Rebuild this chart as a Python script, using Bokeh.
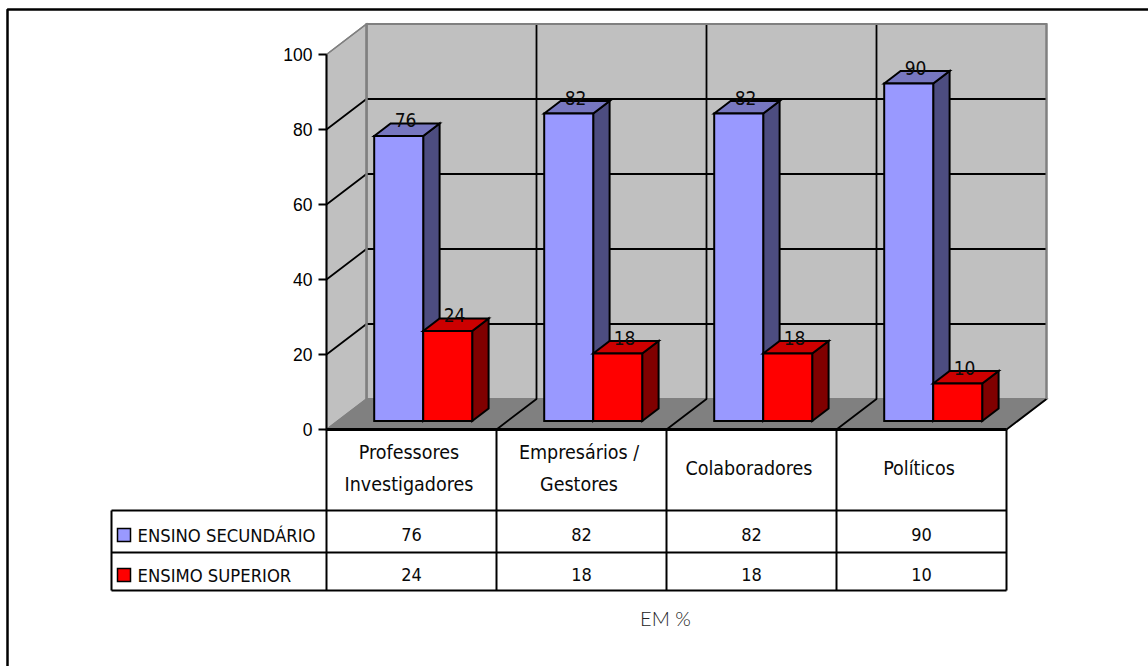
from bokeh.plotting import figure
from bokeh.models import FixedTicker, Range1d
from bokeh.core.properties import value
from bokeh.embed import file_html
from bokeh.resources import INLINE

# Survey data, in percent
categories = ["Professores\nInvestigadores", "Empresários /\nGestores", "Colaboradores", "Políticos"]
secundario = [76, 82, 82, 90]
superior = [24, 18, 18, 10]
series_names = ["ENSINO SECUNDÁRIO", "ENSIMO SUPERIOR"]
axis_ticks = [0, 20, 40, 60, 80, 100]
note = "EM %"

# Page layout (pixels) and the scale of the drawing
W, H = 1148, 666
X0, Y0 = 326, 429          # foot of the value axis
CAT_W, UNIT_H = 170, 3.75  # pixels per category, pixels per percent
DEPTH_X, DEPTH_Y = 40 / CAT_W, 30.5 / UNIT_H  # oblique offset of the back wall
BAR_W = 49 / CAT_W
BAR_MARGIN = 36.5 / CAT_W
BAR_NEAR, BAR_FAR = 0.28, 0.69  # depth span of the bars

FONT = value("DejaVu Sans Condensed")
INK = "#0A0A0A"


def px_x(x):
    return (x - X0) / CAT_W


def px_y(y):
    return (Y0 - y) / UNIT_H


def proj(x, v, d):
    """Oblique projection of category position x, value v, depth d."""
    return x + d * DEPTH_X, v + d * DEPTH_Y


p = figure(width=W, height=H, output_backend="svg", toolbar_location=None,
           x_range=Range1d(px_x(0), px_x(W)), y_range=Range1d(px_y(H), px_y(0)),
           min_border=0, outline_line_color=None, background_fill_color="white",
           border_fill_color="white")
p.grid.visible = False
p.xaxis.visible = False

n = len(categories)
vmax = axis_ticks[-1]


def poly(points, fill, line="black", width=2):
    xs, ys = zip(*points)
    p.patch(list(xs), list(ys), fill_color=fill, line_color=line, line_width=width,
            line_join="miter")


def seg(points, color="black", width=1.8):
    xs, ys = zip(*points)
    p.line(list(xs), list(ys), line_color=color, line_width=width, line_cap="butt")


# Frame around the chart area: top and left edges only
seg([(px_x(7), px_y(H)), (px_x(7), px_y(9)), (px_x(W), px_y(9))], width=2.5)

# Walls and floor
poly([proj(0, 0, 0), proj(0, 0, 1), proj(n, 0, 1), proj(n, vmax, 1), proj(0, vmax, 1),
      proj(0, 0, 1)], "#C0C0C0", "#808080", 2)
poly([proj(0, 0, 0), proj(0, vmax, 0), proj(0, vmax, 1), proj(0, 0, 1)], "#C0C0C0", "#808080", 1.5)
poly([proj(0, 0, 0), proj(n, 0, 0), proj(n, 0, 1), proj(0, 0, 1)], "#808080", "#808080", 1.5)

# Gridlines across the side wall and the back wall
for t in axis_ticks[1:-1]:
    seg([proj(0, t, 0), proj(0, t, 1), proj(n, t, 1)])
for c in range(1, n):
    seg([proj(c, 0, 0), proj(c, 0, 1), proj(c, vmax, 1)])
seg([proj(n, 0, 0), proj(n, 0, 1)])
seg([proj(0, vmax, 1), proj(n, vmax, 1), proj(n, 0, 1)], "#808080", 2)
seg([proj(0, 0, 1), proj(0, vmax, 1)], "#808080", 2.5)
seg([proj(0, vmax, 0), proj(0, vmax, 1)], "#808080", 1.5)


def bar(left, v, front, top, side):
    right = left + BAR_W
    poly([proj(right, 0, BAR_NEAR), proj(right, 0, BAR_FAR), proj(right, v, BAR_FAR), proj(right, v, BAR_NEAR)], side)
    poly([proj(left, v, BAR_NEAR), proj(left, v, BAR_FAR), proj(right, v, BAR_FAR), proj(right, v, BAR_NEAR)], top)
    poly([proj(left, 0, BAR_NEAR), proj(right, 0, BAR_NEAR), proj(right, v, BAR_NEAR), proj(left, v, BAR_NEAR)], front)


label_x, label_y, label_text = [], [], []
for i in range(n):
    left_a = i + BAR_MARGIN
    left_b = left_a + BAR_W
    bar(left_a, secundario[i], "#9999FF", "#7777C0", "#4D4D80")
    bar(left_b, superior[i], "#FF0000", "#CC0000", "#800000")
    for left, v in ((left_a, secundario[i]), (left_b, superior[i])):
        lx, ly = proj(left + BAR_W / 2, v, 0.5)
        label_x.append(lx)
        label_y.append(ly)
        label_text.append(str(v))

p.text(label_x, label_y, text=label_text, text_font=FONT, text_font_size="19px",
       text_color=INK, text_align="center", text_baseline="alphabetic",
       x_offset=-2, y_offset=-9)

# Value axis on the front edge of the side wall
ax = p.yaxis[0]
ax.fixed_location = 0
ax.bounds = (0, vmax)
ax.ticker = FixedTicker(ticks=axis_ticks)
ax.axis_line_color = "black"
ax.axis_line_width = 2
ax.major_tick_line_color = "black"
ax.major_tick_line_width = 2
ax.major_tick_in = 0
ax.major_tick_out = 8
ax.minor_tick_line_color = None
ax.major_label_standoff = 6
ax.major_label_text_font = "Liberation Sans"
ax.major_label_text_font_size = "17.5px"
ax.major_label_text_color = "black"

# Data table underneath the plot
row_edges = [px_y(429), px_y(510), px_y(552), px_y(590)]
legend_left = px_x(111)
seg([(0, row_edges[0]), (n, row_edges[0])], width=3)
for e in row_edges[1:]:
    seg([(legend_left, e), (n, e)], width=2)
seg([(legend_left, row_edges[1]), (legend_left, row_edges[3])], width=2)
for c in range(n + 1):
    seg([(c, row_edges[0]), (c, row_edges[3])], width=2)

p.text([c + 0.5 for c in range(n)], [px_y(468)] * n, text=categories, text_font=FONT,
       text_font_size="19.5px", text_color=INK, text_align="center",
       text_baseline="middle", text_line_height=1.37, x_offset=-2.5)

for row, (series, name, color) in enumerate(((secundario, series_names[0], "#9999FF"),
                                             (superior, series_names[1], "#FF0000"))):
    cy = px_y(534 + row * 40)
    p.text([c + 0.5 for c in range(n)], [cy] * n, text=[str(v) for v in series], text_font=FONT,
           text_font_size="18px", text_color=INK, text_align="center", text_baseline="middle")
    p.text([px_x(137)], [px_y(535 + row * 40)], text=[name], text_font=FONT, text_font_size="18.3px",
           text_color=INK, text_align="left", text_baseline="middle")
    mid = px_y(534.5 + row * 40)
    half_w, half_h = 6.5 / CAT_W, 6.5 / UNIT_H
    cx = px_x(123.5)
    poly([(cx - half_w, mid - half_h), (cx + half_w, mid - half_h), (cx + half_w, mid + half_h),
          (cx - half_w, mid + half_h)], color, width=1.5)

p.text([px_x(665)], [px_y(617)], text=[note], text_font=value("Lato Light"), text_font_size="20px",
       text_color="#222222", text_align="center", text_baseline="middle")

open("out.html", "w").write(file_html(p, INLINE))
